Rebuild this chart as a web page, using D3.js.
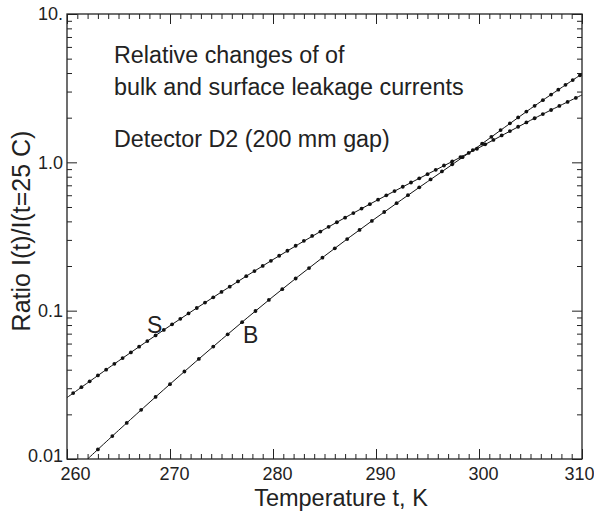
<!DOCTYPE html>
<html><head><meta charset="utf-8">
<script src="https://cdn.jsdelivr.net/npm/d3@7"></script>
<style>
html,body{margin:0;padding:0;background:#fff;}
svg{display:block;font-family:"Liberation Sans",Arial,Helvetica,sans-serif;}
</style></head>
<body>
<svg id="chart" width="594" height="516"></svg>
<script>
// ---- data ----
const majorTemps = [260, 270, 280, 290, 300, 310];
const tempTickLabels = ["260", "270", "280", "290", "300", "310"];
const ratioTicks = [0.01, 0.1, 1, 10];
const ratioTickLabels = ["0.01", "0.1", "1.0", "10."];

// fitted curves (knots)
const sLineT = [260, 265, 270, 275, 280, 285, 290, 295, 300, 305, 310];
const sLineV = [0.02594, 0.04580, 0.07913, 0.1337, 0.2211, 0.3543, 0.5503, 0.8325, 1.2547, 1.9198, 2.848];
const bLineT = [262, 265, 270, 275, 280, 285, 290, 295, 300, 305, 310];
const bLineV = [0.01, 0.01558, 0.03196, 0.06389, 0.1244, 0.2334, 0.4219, 0.7413, 1.2898, 2.2995, 3.943];

// measured points, surface (S)
const sT = [260.6, 261.4, 262.2, 263.0, 263.8, 264.6, 265.4, 266.2, 267.0, 267.8, 268.6, 269.4, 270.2, 271.0, 271.8, 272.6,
  273.4, 274.2, 275.0, 275.8, 276.6, 277.4, 278.2, 279.0, 279.8, 280.6, 281.4, 282.2, 283.0, 283.8, 284.6, 285.4, 286.2,
  287.0, 287.8, 288.6, 289.4, 290.2, 291.0, 291.8, 292.6, 293.4, 294.2, 295.0, 295.8, 296.6, 297.4, 298.2, 299.0, 299.8,
  300.6, 301.4, 302.2, 303.0, 303.8, 304.6, 305.4, 306.2, 307.0, 307.8, 308.6, 309.4];
const sV = [0.02781, 0.03049, 0.03341, 0.03659, 0.04004, 0.04381, 0.04789, 0.05233, 0.05715, 0.06238, 0.06805, 0.07419,
  0.08084, 0.08804, 0.09582, 0.1042, 0.1133, 0.1231, 0.1337, 0.1451, 0.1574, 0.1707, 0.1850, 0.2003, 0.2168, 0.2345,
  0.2535, 0.2739, 0.2958, 0.3193, 0.3415, 0.3673, 0.3946, 0.4237, 0.4546, 0.4876, 0.5227, 0.5598, 0.5989, 0.6404,
  0.6844, 0.7310, 0.7804, 0.8325, 0.8904, 0.9518, 1.0165, 1.0853, 1.1581, 1.2352, 1.3224, 1.4168, 1.5174, 1.6240,
  1.7370, 1.8574, 1.9831, 2.1148, 2.2540, 2.4008, 2.5559, 2.7192];

// measured points, bulk (B)
const bT = [263.0, 264.4, 265.8, 267.2, 268.6, 270.0, 271.4, 272.8, 274.2, 275.6, 277.0, 278.3, 279.6, 280.9, 282.2,
  283.5, 284.8, 286.0, 287.2, 288.4, 289.6, 290.8, 292.0, 293.1, 294.2, 295.3, 296.4, 297.4, 298.4, 299.4, 300.3,
  301.2, 302.1, 303.0, 303.8, 304.6, 305.4, 306.2, 307.0, 307.7, 308.4, 309.1, 309.8];
const bV = [0.01161, 0.01427, 0.01751, 0.02144, 0.02621, 0.03196, 0.03890, 0.04726, 0.05729, 0.06930, 0.08367, 0.09948,
  0.1181, 0.1396, 0.1647, 0.1938, 0.2278, 0.2633, 0.3039, 0.3502, 0.4028, 0.4626, 0.5303, 0.6003, 0.6786, 0.7670,
  0.8680, 0.9703, 1.0835, 1.2087, 1.3365, 1.4854, 1.6500, 1.8310, 2.0070, 2.1987, 2.4043, 2.6245, 2.8626, 3.0875,
  3.3285, 3.5852, 3.8609];

const noteLines = ["Relative changes of of", "bulk and surface leakage currents", "Detector D2 (200 mm gap)"];

// ---- layout ----
const L = 67, R = 582, T = 14, B = 459;
const ink = "#222";
const svg = d3.select("#chart");
const x = d3.scaleLinear().domain([260, 310]).range([L, R]);
const y = d3.scaleLog().domain([0.01, 10]).range([B, T]);

const minorT = d3.range(260, 311, 1).filter(v => v % 10 !== 0);
const minorR = [];
[0.01, 0.1, 1].forEach(dec => { for (let k = 2; k <= 9; k++) minorR.push(dec * k); });

function styleAxis(g) {
  g.select(".domain").remove();
  g.selectAll(".tick line").attr("stroke", ink).attr("stroke-width", 1);
  g.selectAll("text").attr("fill", ink).attr("font-size", 18)
    .attr("font-family", "'Liberation Sans', Arial, Helvetica, sans-serif");
}

// bottom axis
svg.append("g").attr("transform", `translate(0,${B})`)
  .call(d3.axisBottom(x).tickValues(minorT).tickSize(-5).tickFormat("")).call(styleAxis);
const bx = svg.append("g").attr("transform", `translate(0,${B})`)
  .call(d3.axisBottom(x).tickValues(majorTemps).tickSize(-10).tickPadding(8)
    .tickFormat((d, i) => tempTickLabels[i])).call(styleAxis);
bx.selectAll(".tick text").attr("dx", (d, i) => i === 0 ? 8 : (i === majorTemps.length - 1 ? -3 : 4));

// top axis (mirror)
svg.append("g").attr("transform", `translate(0,${T})`)
  .call(d3.axisTop(x).tickValues(minorT).tickSize(-5).tickFormat("")).call(styleAxis);
svg.append("g").attr("transform", `translate(0,${T})`)
  .call(d3.axisTop(x).tickValues(majorTemps).tickSize(-10).tickFormat("")).call(styleAxis);

// left axis
svg.append("g").attr("transform", `translate(${L},0)`)
  .call(d3.axisLeft(y).tickValues(minorR).tickSize(-5).tickFormat("")).call(styleAxis);
const ly = svg.append("g").attr("transform", `translate(${L},0)`)
  .call(d3.axisLeft(y).tickValues(ratioTicks).tickSize(-10).tickPadding(4)
    .tickFormat((d, i) => ratioTickLabels[i])).call(styleAxis);
ly.selectAll(".tick text").attr("dy", (d, i) => i === 0 ? "0.12em" : "0.32em");

// right axis (mirror)
svg.append("g").attr("transform", `translate(${R},0)`)
  .call(d3.axisRight(y).tickValues(minorR).tickSize(-5).tickFormat("")).call(styleAxis);
svg.append("g").attr("transform", `translate(${R},0)`)
  .call(d3.axisRight(y).tickValues(ratioTicks).tickSize(-10).tickFormat("")).call(styleAxis);

// frame
svg.append("rect").attr("x", L).attr("y", T).attr("width", R - L).attr("height", B - T)
  .attr("fill", "none").attr("stroke", ink).attr("stroke-width", 1.3);

// clip
svg.append("clipPath").attr("id", "clip").append("rect")
  .attr("x", L).attr("y", T).attr("width", R - L).attr("height", B - T);
const plot = svg.append("g").attr("clip-path", "url(#clip)");

const line = d3.line().x(d => x(d[0])).y(d => y(d[1])).curve(d3.curveCatmullRom);
plot.append("path").datum(sLineT.map((t, i) => [t, sLineV[i]]))
  .attr("d", line).attr("fill", "none").attr("stroke", "#111").attr("stroke-width", 1);
plot.append("path").datum(bLineT.map((t, i) => [t, bLineV[i]]))
  .attr("d", line).attr("fill", "none").attr("stroke", "#111").attr("stroke-width", 1);

plot.selectAll("circle.s").data(sT.map((t, i) => [t, sV[i]])).enter().append("circle")
  .attr("class", "s").attr("cx", d => x(d[0])).attr("cy", d => y(d[1])).attr("r", 1.9).attr("fill", "#111");
plot.selectAll("circle.b").data(bT.map((t, i) => [t, bV[i]])).enter().append("circle")
  .attr("class", "b").attr("cx", d => x(d[0])).attr("cy", d => y(d[1])).attr("r", 1.9).attr("fill", "#111");

// series labels
svg.append("text").attr("x", 147).attr("y", 333).attr("font-size", 23).attr("fill", ink).text("S");
svg.append("text").attr("x", 243).attr("y", 343).attr("font-size", 23).attr("fill", ink).text("B");

// annotation
const noteY = [62.5, 95, 147];
noteLines.forEach((s, i) => {
  svg.append("text").attr("x", 114).attr("y", noteY[i]).attr("font-size", 23.3).attr("fill", ink).text(s);
});

// axis titles
svg.append("text").attr("x", 341).attr("y", 506).attr("text-anchor", "middle")
  .attr("font-size", 23.5).attr("fill", ink).text("Temperature t, K");
svg.append("text").attr("transform", "translate(30,231) rotate(-90)").attr("text-anchor", "middle")
  .attr("font-size", 25).attr("fill", ink).text("Ratio I(t)/I(t=25 C)");
</script>
</body></html>
